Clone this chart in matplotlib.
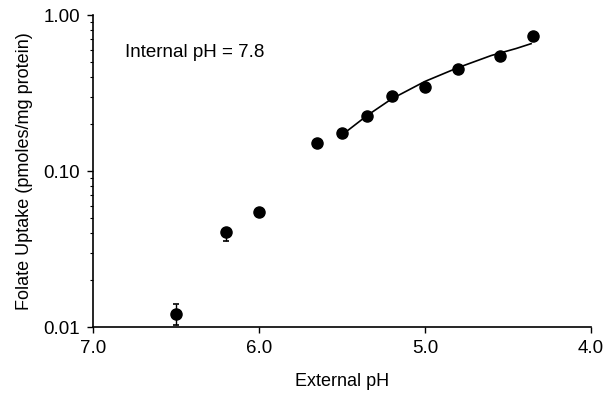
import matplotlib.pyplot as plt

ext_ph = [6.5, 6.2, 6.0, 5.65, 5.5, 5.35, 5.2, 5.0, 4.8, 4.55, 4.35]
uptake = [0.0121, 0.0405, 0.0544, 0.152, 0.176, 0.225, 0.303, 0.346, 0.448, 0.547, 0.733]

# error bars only visible on the two low points
err_ph = [6.5, 6.2]
err_val = [0.0121, 0.0405]
err_lo = [0.0018, 0.0051]
err_hi = [0.0019, 0.0]

curve_ph = [5.47, 5.35, 5.2, 5.0, 4.8, 4.6, 4.45, 4.36]
curve_val = [0.18, 0.226, 0.29, 0.375, 0.46, 0.55, 0.61, 0.655]

plt.rcParams['font.family'] = ['Liberation Sans', 'DejaVu Sans']

fig = plt.figure(figsize=(6.11, 3.95), dpi=100)
ax = fig.add_axes([0.152, 0.172, 0.815, 0.79])

ax.errorbar(err_ph, err_val, yerr=[err_lo, err_hi], fmt='none', ecolor='black',
            elinewidth=1, capsize=2.5, capthick=1.2)
ax.plot(curve_ph, curve_val, color='black', lw=1.2)
ax.plot(ext_ph, uptake, 'o', color='black', ms=8)

ax.set_yscale('log')
ax.set_ylim(0.01, 1.0)
ax.set_xlim(7.0, 4.0)
ax.set_xticks([7.0, 6.0, 5.0, 4.0])
ax.set_xticklabels(['7.0', '6.0', '5.0', '4.0'])
ax.set_yticks([0.01, 0.1, 1.0])
ax.set_yticklabels(['0.01', '0.10', '1.00'])

for s in ['top', 'right']:
    ax.spines[s].set_visible(False)
for s in ['left', 'bottom']:
    ax.spines[s].set_linewidth(1.2)

ax.tick_params(axis='both', which='major', direction='out', length=4, width=1,
               labelsize=13.5, pad=5)
ax.tick_params(axis='y', which='minor', direction='out', length=2, width=0.8)

ax.text(0.064, 0.88, 'Internal pH = 7.8', transform=ax.transAxes, fontsize=13.5,
        va='center')
ax.set_xlabel('External pH', fontsize=13, labelpad=12)
ax.set_ylabel('Folate Uptake (pmoles/mg protein)', fontsize=13, labelpad=8)

fig.savefig('out.png', dpi=100)
